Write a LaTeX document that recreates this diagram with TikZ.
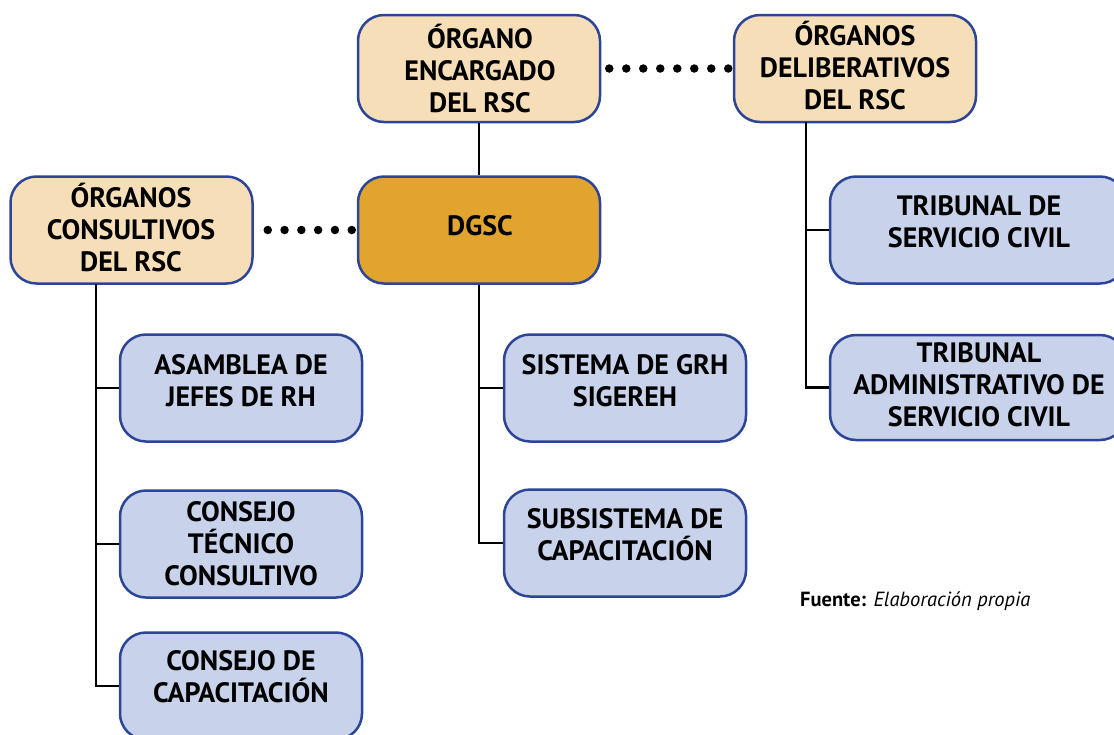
\documentclass[tikz,border=0pt]{standalone}
\usepackage{fontspec}
\setmainfont{PT Sans}
\definecolor{beige}{HTML}{F6DEB8}
\definecolor{lblue}{HTML}{C8D2EA}
\definecolor{gold}{HTML}{E1A52F}
\definecolor{bord}{HTML}{2C4597}
\begin{document}
\begin{tikzpicture}[x=1pt,y=-1pt,
  box/.style={draw=bord, line width=2.5pt, rounded corners=26pt, minimum width=242pt, minimum height=107pt, inner sep=0pt},
  bbox/.style={box, fill=beige},
  gbox/.style={box, fill=gold},
  lbox/.style={box, fill=lblue},
  txt/.style={font=\fontsize{28}{32}\selectfont\bfseries, align=center, inner sep=0pt},
  conn/.style={line width=2.5pt, black},
  dotline/.style={line width=8.5pt, line cap=round}
]
\useasboundingbox (0,0) rectangle (1114,734);
\clip (0,0) rectangle (1114,734);
% boxes
\node[bbox] (b1) at (479,68.5) {};
\node[bbox] (b2) at (855,68.5) {};
\node[bbox] (b3) at (131.5,230) {};
\node[gbox] (b4) at (479,230) {};
\node[lbox, minimum width=296pt] (b5) at (978,230) {};
\node[lbox, minimum width=296pt, minimum height=105pt] (b6) at (978,387.5) {};
\node[lbox] (b7) at (241,388) {};
\node[lbox] (b8) at (625,388) {};
\node[lbox] (b9) at (241,544) {};
\node[lbox] (b10) at (625,543) {};
\node[lbox] (b11) at (241,686) {};
% texts
\node[txt] (t1) at (480,69) {ÓRGANO\\ENCARGADO\\DEL RSC};
\node[txt] (t2) at (855,66) {ÓRGANOS\\DELIBERATIVOS\\DEL RSC};
\node[txt] (t3) at (131,228) {ÓRGANOS\\CONSULTIVOS\\DEL RSC};
\node[txt] (t4) at (480,226) {DGSC};
\node[txt] (t5) at (979,222) {TRIBUNAL DE\\SERVICIO CIVIL};
\node[txt] (t6) at (979,385) {TRIBUNAL\\ADMINISTRATIVO DE\\SERVICIO CIVIL};
\node[txt] (t7) at (241,381) {ASAMBLEA DE\\JEFES DE RH};
\node[txt] (t8) at (625,381) {SISTEMA DE GRH\\SIGEREH};
\node[txt] (t9) at (241,544) {CONSEJO\\TÉCNICO\\CONSULTIVO};
\node[txt] (t10) at (625,535) {SUBSISTEMA DE\\CAPACITACIÓN};
\node[txt] (t11) at (241,677) {CONSEJO DE\\CAPACITACIÓN};
% connectors
\draw[conn] (b1.south) -- (b4.north);
\draw[dotline, dash pattern=on 0pt off 17pt, shorten <=8pt, shorten >=3.5pt] (b1.east) -- (b2.west);
\draw[dotline, dash pattern=on 0pt off 16.8pt, shorten <=14pt, shorten >=4.5pt] (b3.east) -- (b4.west);
\coordinate (s1) at (96,283.5);
\coordinate (s3) at (806,122);
\draw[conn] (s1) |- (b11.west);
\draw[conn] (s1 |- b7.west) -- (b7.west);
\draw[conn] (s1 |- b9.west) -- (b9.west);
\draw[conn] (b4.south) |- (b10.west);
\draw[conn] (b4.south |- b8.west) -- (b8.west);
\draw[conn] (s3) |- (b6.west);
\draw[conn] (s3 |- b5.west) -- (b5.west);
% source
\node[anchor=base west, inner sep=0pt, font=\fontsize{20.5}{24}\selectfont] (src) at (800,606) {\textbf{Fuente:} \textit{Elaboración propia}};
\end{tikzpicture}
\end{document}
